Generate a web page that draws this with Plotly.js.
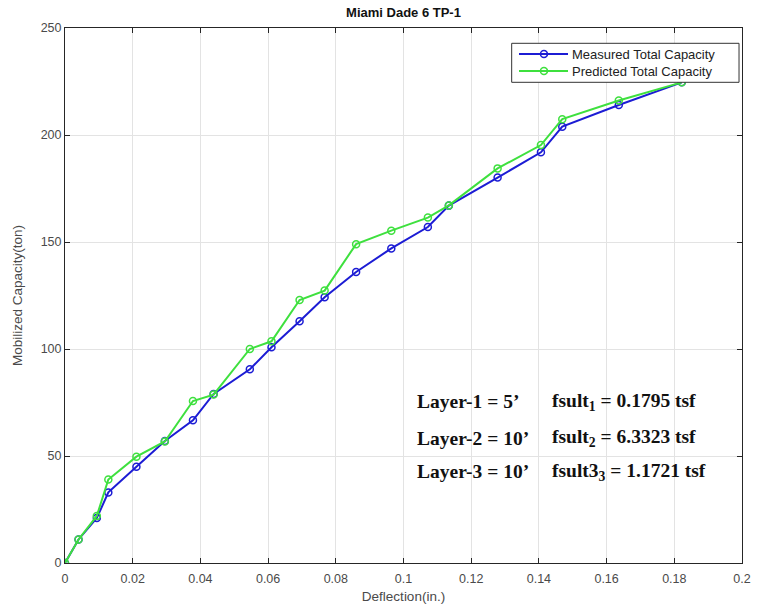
<!DOCTYPE html>
<html>
<head>
<meta charset="utf-8">
<script src="https://cdn.plot.ly/plotly-3.0.1.min.js"></script>
<style>html,body{margin:0;padding:0;background:#fff;}#chart{width:757px;height:615px;}</style>
</head>
<body>
<div id="chart"></div>
<script>
const deflection = [0, 0.004, 0.0094, 0.0128, 0.0211, 0.0295, 0.0378, 0.0439, 0.0546, 0.061, 0.0693, 0.0767, 0.086, 0.0964, 0.1072, 0.1134, 0.1278, 0.1406, 0.1469, 0.1636, 0.1822];
const measured = [0, 11, 21, 33, 45, 57, 66.7, 79, 90.5, 100.8, 113, 124.2, 136, 147, 157, 167, 180.1, 191.9, 203.9, 214, 224.6];
const predicted = [0, 11, 22, 39, 49.7, 56.8, 75.7, 78.7, 100, 103.6, 122.9, 127.3, 149, 155.3, 161.4, 167.1, 184.4, 195.3, 207.4, 216.1, 224.6];
const xTicks = [0, 0.02, 0.04, 0.06, 0.08, 0.1, 0.12, 0.14, 0.16, 0.18, 0.2];
const yTicks = [0, 50, 100, 150, 200, 250];
const seriesNames = ['Measured Total Capacity', 'Predicted Total Capacity'];
const seriesColors = ['#1c1cd4', '#3ee03e'];
const layerLabels = ["Layer-1 = 5’", "Layer-2 = 10’", "Layer-3 = 10’"];
const fsultLabels = ["fsult<sub>1</sub> = 0.1795 tsf", "fsult<sub>2</sub> = 6.3323 tsf", "fsult3<sub>3</sub> = 1.1721 tsf"];
const labelY = [75.4, 58.3, 42.7];

const traces = [measured, predicted].map((vals, i) => ({
  x: deflection, y: vals, name: seriesNames[i], mode: 'lines+markers',
  line: {color: seriesColors[i], width: 2},
  marker: {symbol: 'circle-open', size: 7, color: seriesColors[i], line: {width: 1.5}}
}));

const serif = 'Liberation Serif, Times New Roman, serif';
const sans = 'Liberation Sans, Arial, sans-serif';
const annotations = [];
layerLabels.forEach((t, i) => {
  annotations.push({x: 0.1035, y: labelY[i], xref: 'x', yref: 'y', text: '<b>' + t + '</b>', showarrow: false, xanchor: 'left',
    font: {family: serif, size: 19.5, color: '#111'}});
  annotations.push({x: 0.1433, y: labelY[i], xref: 'x', yref: 'y', text: '<b>' + fsultLabels[i] + '</b>', showarrow: false, xanchor: 'left',
    font: {family: serif, size: 19.5, color: '#111'}});
});

// custom legend (paper coordinates of the plot area)
const legBox = {x0: 0.6598, x1: 0.9956, y0: 0.8985, y1: 0.9714};
const legRowY = [0.9514, 0.9196];
const shapes = [{type: 'rect', xref: 'paper', yref: 'paper', x0: legBox.x0, x1: legBox.x1, y0: legBox.y0, y1: legBox.y1,
  line: {color: '#333', width: 1}, fillcolor: '#fff', layer: 'above'}];
seriesNames.forEach((n, i) => {
  shapes.push({type: 'line', xref: 'paper', yref: 'paper', x0: 0.6706, x1: 0.743, y0: legRowY[i], y1: legRowY[i],
    line: {color: seriesColors[i], width: 2}, layer: 'above'});
  shapes.push({type: 'circle', xref: 'paper', yref: 'paper', xsizemode: 'pixel', ysizemode: 'pixel',
    xanchor: 0.7075, yanchor: legRowY[i], x0: -3.5, x1: 3.5, y0: -3.5, y1: 3.5,
    line: {color: seriesColors[i], width: 1.5}, fillcolor: 'rgba(0,0,0,0)', layer: 'above'});
  annotations.push({xref: 'paper', yref: 'paper', x: 0.746, y: legRowY[i], text: n, showarrow: false,
    xanchor: 'left', yanchor: 'middle', font: {family: sans, size: 13, color: '#222'}});
});

const axisCommon = {
  showline: true, linecolor: '#262626', linewidth: 1, mirror: 'ticks',
  ticks: 'inside', ticklen: 5, tickcolor: '#262626',
  showgrid: true, gridcolor: '#e3e3e3', gridwidth: 1, zeroline: false,
  tickfont: {family: sans, size: 12.5, color: '#4a4a4a'}
};

const layout = {
  width: 757, height: 615,
  margin: {l: 65, r: 15, t: 28, b: 52},
  paper_bgcolor: '#fff', plot_bgcolor: '#fff',
  title: {text: '<b>Miami Dade 6 TP-1</b>', xref: 'paper', x: 0.5, xanchor: 'center', y: 0.979, yanchor: 'middle',
    font: {family: sans, size: 13, color: '#111'}},
  xaxis: Object.assign({}, axisCommon, {range: [0, 0.2], tickvals: xTicks, ticktext: xTicks.map(String), ticklabelstandoff: 4,
    title: {text: 'Deflection(in.)', standoff: 6, font: {family: sans, size: 13.5, color: '#4a4a4a'}}}),
  yaxis: Object.assign({}, axisCommon, {range: [0, 250], tickvals: yTicks,
    title: {text: 'Mobilized Capacity(ton)', standoff: 14, font: {family: sans, size: 13.5, color: '#4a4a4a'}}}),
  annotations: annotations,
  shapes: shapes,
  showlegend: false
};

Plotly.newPlot('chart', traces, layout, {displayModeBar: false, staticPlot: true});
</script>
</body>
</html>
